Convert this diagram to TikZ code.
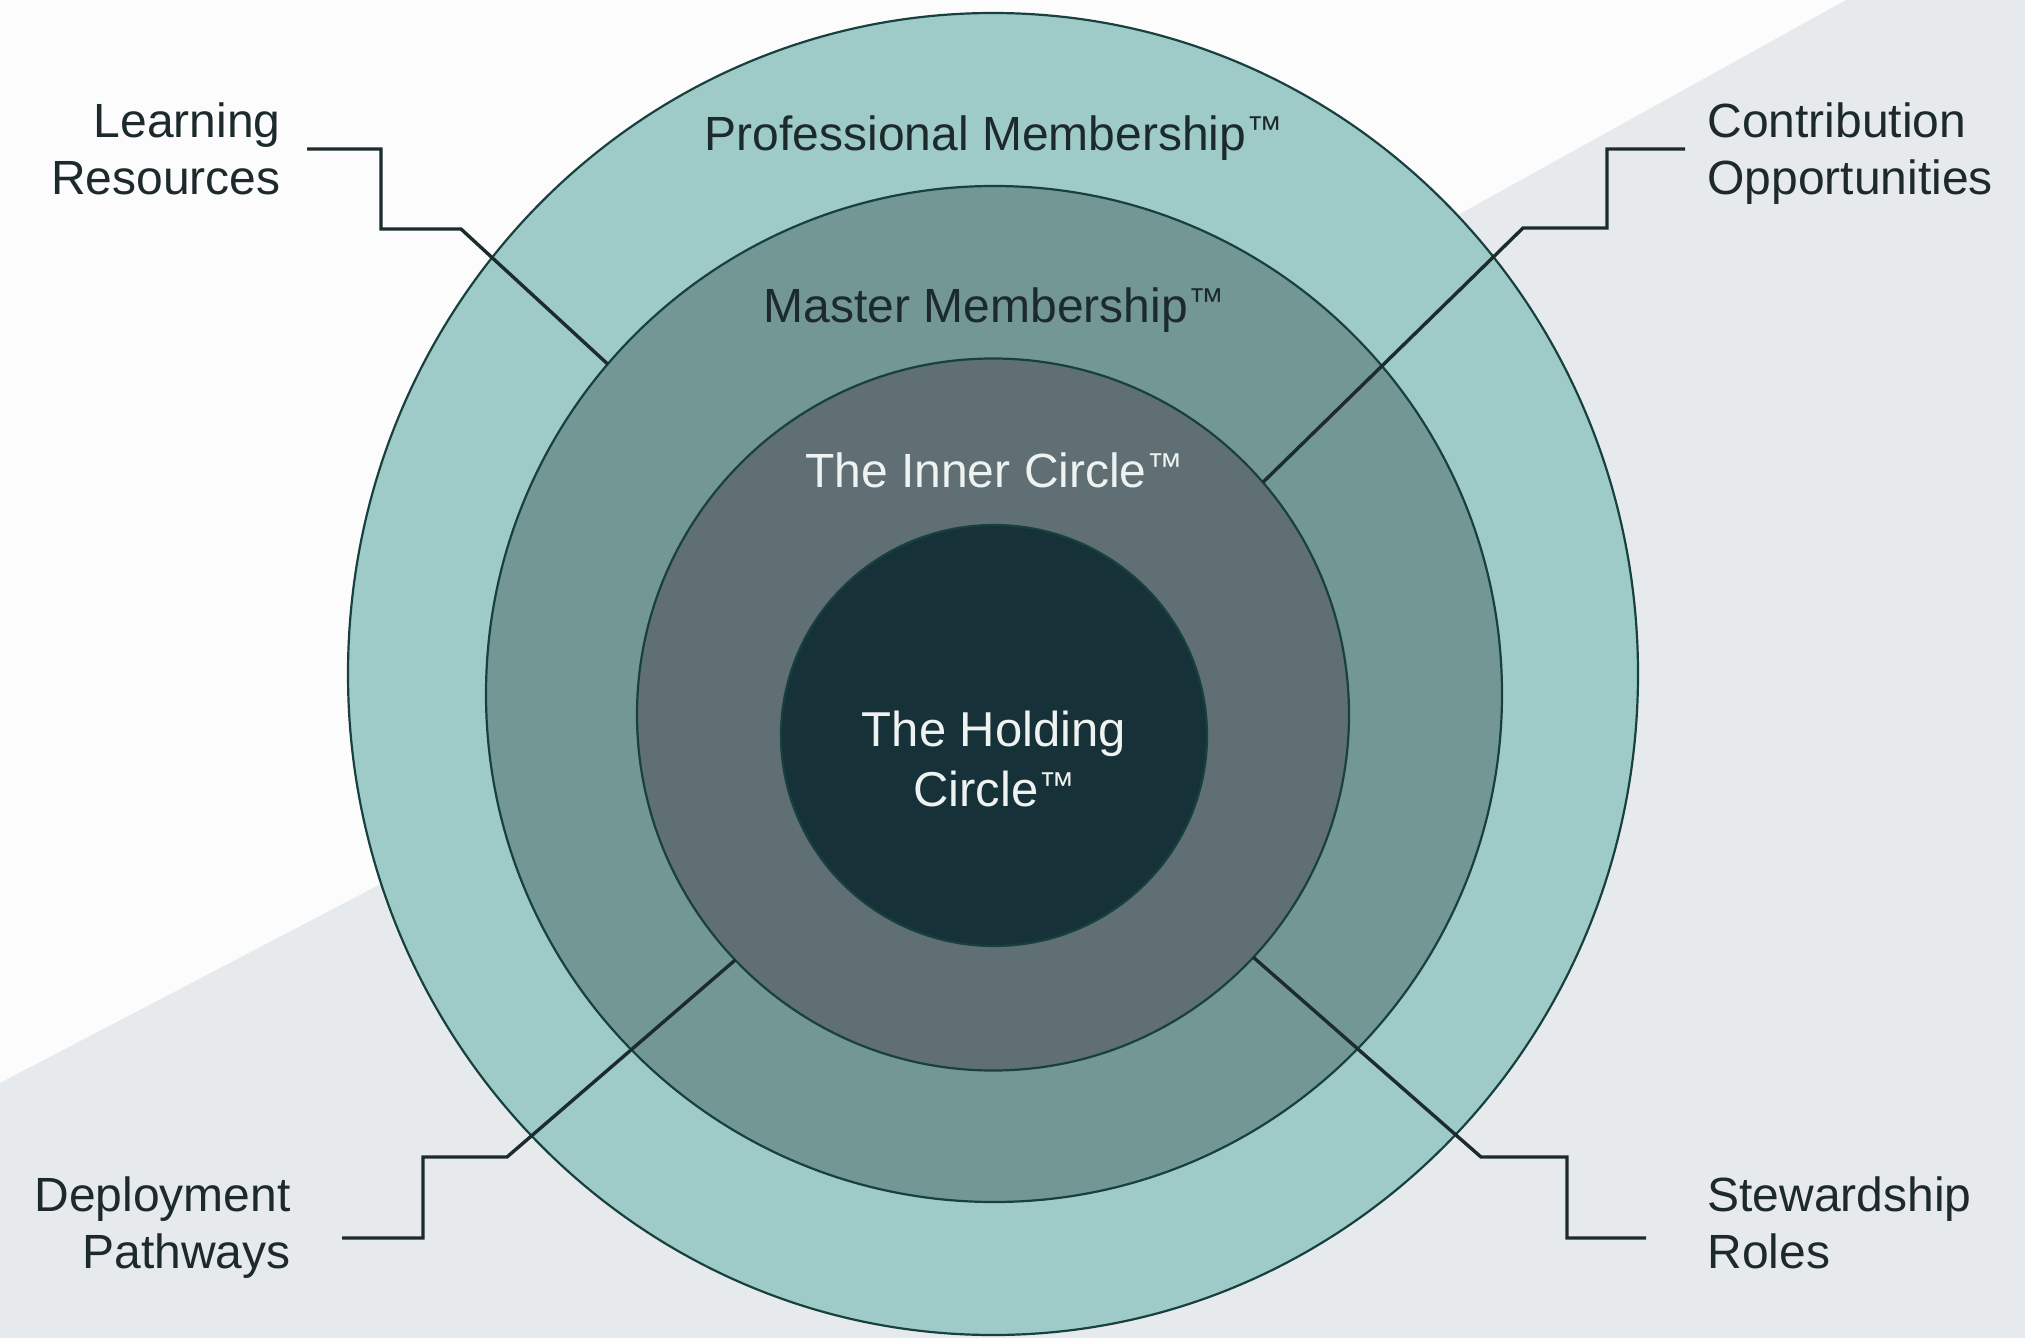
\documentclass[tikz,border=0pt]{standalone}
\usepackage{fontspec}
\setmainfont{Liberation Sans}
\usetikzlibrary{calc}
\definecolor{bgwhite}{HTML}{FCFCFC}
\definecolor{bggray}{HTML}{E7EAEC}
\definecolor{ringA}{HTML}{9ECBC8}
\definecolor{ringB}{HTML}{729795}
\definecolor{ringC}{HTML}{5F6F73}
\definecolor{ringD}{HTML}{163138}
\definecolor{ringstroke}{HTML}{17403F}
\definecolor{leadcol}{HTML}{1C2B2D}
\definecolor{darktext}{HTML}{1D2A2C}
\definecolor{lighttext}{HTML}{EEF3F2}
\newcommand\tmsign{\raisebox{0.18em}{\fontsize{18}{18}\selectfont ™}}
\begin{document}
\begin{tikzpicture}[x=0.5pt,y=-0.5pt,
  ringline/.style={draw=ringstroke, line width=1.1pt},
  leader/.style={draw=leadcol, line width=1.7pt, line join=miter},
  ringtitle/.style={font=\fontsize{24}{28.5}\selectfont, inner sep=0pt, anchor=base},
  sidelabel/.style={font=\fontsize{24}{28.5}\selectfont, inner sep=0pt, text=darktext},
]
\useasboundingbox (0,0) rectangle (2025,1338);
\fill[bgwhite] (0,0) rectangle (2025,1338);
\fill[bggray] (0,1083) -- (400,874) -- (1440,225) -- (1846,0) -- (2025,0) -- (2025,1338) -- (0,1338) -- cycle;

% ring centres
\coordinate (c1) at (993,674);
\coordinate (c2) at (994,694);
\coordinate (c3) at (993,714.5);
\coordinate (c4) at (994,735.5);

% rings
\path[fill=ringA, ringline] (c1) ellipse [x radius=322.5pt, y radius=330.5pt];
\path[fill=ringB, ringline] (c2) circle [radius=254pt];
\path[fill=ringC, ringline] (c3) circle [radius=178pt];
\path[fill=ringD, ringline] (c4) ellipse [x radius=106.5pt, y radius=105.25pt];

% ring titles
\node[ringtitle, text=darktext] (prof) at (993.5,150) {Professional Membership\tmsign};
\node[ringtitle, text=darktext] (master) at (994,322) {Master Membership\tmsign};
\node[ringtitle, text=lighttext] (inner) at (994,487) {The Inner Circle\tmsign};
\node[font=\fontsize{24.5}{30}\selectfont, inner sep=0pt, anchor=north, align=center, text=lighttext] (holding) at (994,704) {\strut The Holding\\Circle\tmsign\strut};

% side labels
\node[sidelabel, anchor=north east, align=right] (lr) at (281,97.1) {\strut Learning\\Resources\strut};
\node[sidelabel, anchor=north west, align=left] (co) at (1707,97.1) {\strut Contribution\\Opportunities\strut};
\node[sidelabel, anchor=north east, align=right] (dp) at (291,1171.1) {\strut Deployment\\Pathways\strut};
\node[sidelabel, anchor=north west, align=left] (sr) at (1707,1171.1) {\strut Stewardship\\Roles\strut};

% leader start points (beside labels) and end points (on ring edges)
\coordinate (lr-s) at (307,149);
\coordinate (co-s) at (1685,149);
\coordinate (dp-s) at (342,1238);
\coordinate (sr-s) at (1646,1238);
\coordinate (lr-e) at ($(c2)+(139.5:254pt)$);
\coordinate (co-e) at ($(c3)+(40.7:178pt)$);
\coordinate (dp-e) at ($(c3)+(223.6:178pt)$);
\coordinate (sr-e) at ($(c3)+(-43:178pt)$);

% leaders
\draw[leader] (lr-s) -| (381,229) -- (461,229) -- (lr-e);
\draw[leader] (co-s) -| (1607,228) -- (1523,228) -- (co-e);
\draw[leader] (dp-s) -| (423,1157) -- (507,1157) -- (dp-e);
\draw[leader] (sr-s) -| (1567,1157) -- (1481,1157) -- (sr-e);
\end{tikzpicture}
\end{document}
